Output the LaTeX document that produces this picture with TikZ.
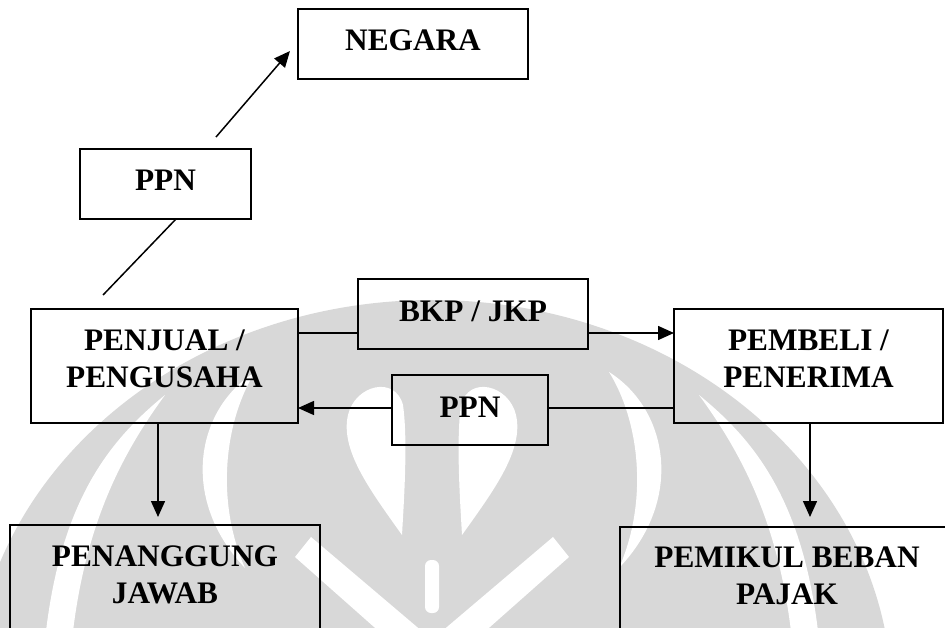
\documentclass[tikz,border=0pt]{standalone}
\usepackage{fontspec}
\setmainfont{Liberation Serif}
\usetikzlibrary{arrows.meta,calc}
\definecolor{wmgray}{RGB}{216,216,216}
\begin{document}
\begin{tikzpicture}[x=1pt,y=-1pt,
  box/.style={draw=black, line width=1.6pt, rectangle, inner sep=0pt, outer sep=0pt,
    font=\bfseries\fontsize{31.3}{37}\selectfont, align=center},
  one/.style={box, text height=21pt, text depth=7pt},
  conn/.style={line width=1.5pt, draw=black},
  arr/.style={conn, -{Triangle[length=16pt,width=14pt]}},
  wm/.style={fill=wmgray},
  wmgap/.style={fill=white},
]
\useasboundingbox (0,0) rectangle (945,628);
% faint background watermark (university logo)
\begin{scope}
\clip (0,0) rectangle (945,628);
\fill[wm] (432,700) ellipse [x radius=460, y radius=400];
\fill[wmgap] (165,395) .. controls (110,440) and (60,500) .. (45,640) -- (72,640) .. controls (85,520) and (125,450) .. (165,395) -- cycle;
\fill[wmgap] (699,395) .. controls (754,440) and (804,500) .. (819,640) -- (792,640) .. controls (779,520) and (739,450) .. (699,395) -- cycle;
\fill[wmgap] (255,372) .. controls (195,410) and (180,500) .. (245,568) .. controls (215,500) and (225,420) .. (255,372) -- cycle;
\fill[wmgap] (609,372) .. controls (669,410) and (684,500) .. (619,568) .. controls (649,500) and (639,420) .. (609,372) -- cycle;
\fill[wmgap] (402,535) .. controls (370,490) and (340,450) .. (348,415) .. controls (355,385) and (395,375) .. (403,405) .. controls (408,440) and (404,500) .. (402,535) -- cycle;
\fill[wmgap] (462,535) .. controls (494,490) and (524,450) .. (516,415) .. controls (509,385) and (469,375) .. (461,405) .. controls (456,440) and (460,500) .. (462,535) -- cycle;
\fill[wmgap] (311,537) -- (430,638) -- (400,650) -- (295,557) -- cycle;
\fill[wmgap] (553,537) -- (434,638) -- (464,650) -- (569,557) -- cycle;
\fill[wmgap, rounded corners=6pt] (425,560) rectangle (439,613);
\end{scope}

\node[one, minimum width=230pt, minimum height=70pt] (neg) at (413,44) {NEGARA};
\node[one, minimum width=171pt, minimum height=70pt] (ppn1) at (165.5,184) {PPN};
\node[box, minimum width=267pt, minimum height=114pt, text height=58pt, text depth=16pt] (pen) at (164.5,366) {PENJUAL /\\PENGUSAHA};
\node[one, minimum width=230pt, minimum height=70pt] (bkp) at (473,314) {BKP / JKP};
\node[box, minimum width=269pt, minimum height=114pt, text height=58pt, text depth=16pt] (pem) at (808.5,366) {PEMBELI /\\PENERIMA};
\node[one, minimum width=156pt, minimum height=70pt] (ppn2) at (470,410) {PPN};
\node[box, minimum width=310pt, minimum height=130pt, text height=58pt, text depth=32pt] (pjw) at (165,590) {PENANGGUNG\\JAWAB};
\node[box, minimum width=334pt, minimum height=130pt, text height=58pt, text depth=34pt] (pmk) at (787,592) {PEMIKUL BEBAN\\PAJAK};

\draw[conn, shorten <=19.4pt] ($(pen.north west)+(58.6,0)$) -- ($(ppn1.south west)+(96,0)$);
\draw[arr, shorten <=15.8pt, shorten >=12.3pt] ($(ppn1.north west)+(125.7,0)$) -- ($(neg.north west)+(0,32.7)$);

\coordinate (yb) at ($(bkp.north)+(0,54)$);
\draw[conn] (pen.east |- yb) -- (bkp.west |- yb);
\draw[arr] (bkp.east |- yb) -- (pem.west |- yb);

\coordinate (yp) at ($(ppn2.center)+(0,-2)$);
\draw[conn] (pem.west |- yp) -- (ppn2.east |- yp);
\draw[arr] (ppn2.west |- yp) -- (pen.east |- yp);

\coordinate (dl) at ($(pen.south)+(-6.5,0)$);
\draw[arr, shorten >=8pt] (dl) -- (dl |- pjw.north);
\coordinate (dr) at ($(pem.south)+(1.5,0)$);
\draw[arr, shorten >=10pt] (dr) -- (dr |- pmk.north);
\end{tikzpicture}
\end{document}
